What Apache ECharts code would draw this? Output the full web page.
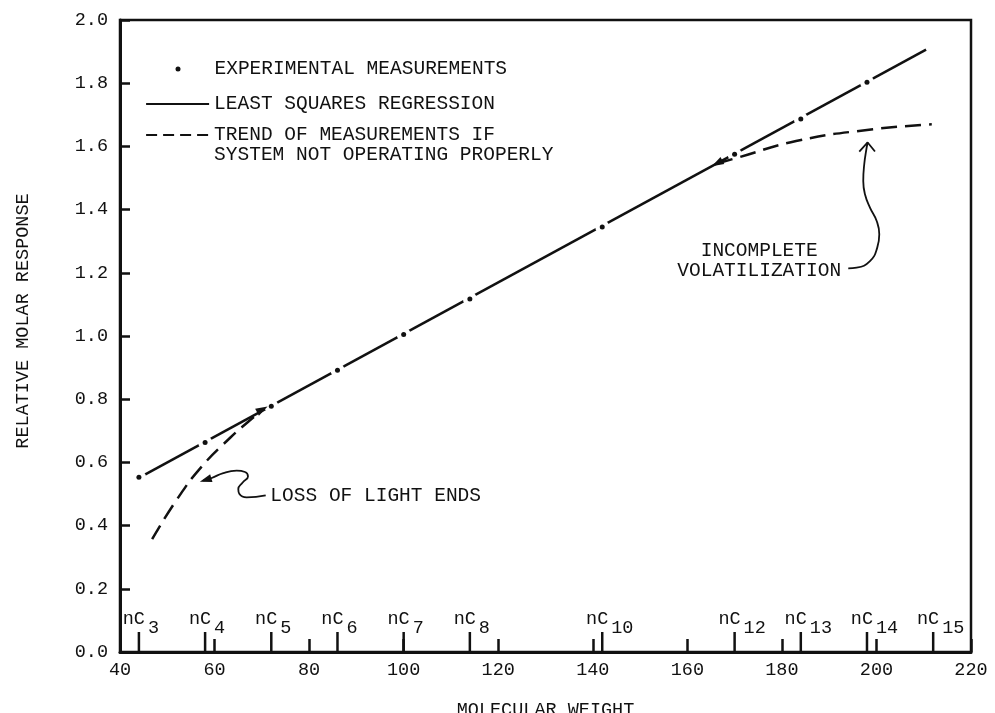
<!DOCTYPE html>
<html>
<head>
<meta charset="utf-8">
<script src="https://cdn.jsdelivr.net/npm/echarts@6/dist/echarts.min.js"></script>
<style>
html,body{margin:0;padding:0;background:#fff}
#c{width:995px;height:713px}
</style>
</head>
<body>
<div id="c"></div>
<script>
const FONT = "'Liberation Mono','DejaVu Sans Mono',monospace";
const INK = '#111';

// carbon-number markers along the molecular-weight axis
const compoundMW  = [44, 58, 72, 86, 100, 114, 142, 170, 184, 198, 212];
const compoundSub = ['3', '4', '5', '6', '7', '8', '10', '12', '13', '14', '15'];

// experimental measurements (dots)
const measuredMW  = [44, 58, 72, 86, 100, 114, 142, 170, 184, 198];
const measuredRMR = [0.553, 0.663, 0.778, 0.892, 1.005, 1.117, 1.345, 1.575, 1.687, 1.803];

// least squares regression end points
const regressionMW  = [44, 210.5];
const regressionRMR = [0.551, 1.906];

// trend if system not operating properly
const lowTrendMW   = [46.8, 52, 57.3, 63.3, 67, 70.3];
const lowTrendRMR  = [0.357, 0.482, 0.587, 0.678, 0.727, 0.768];
const highTrendMW  = [166.3, 171, 183, 198, 211.7];
const highTrendRMR = [1.546, 1.566, 1.617, 1.652, 1.670];

// arrow heads where trends meet the regression / annotation arrow
const tipMW  = [70.1, 166.3, 58.1];
const tipRMR = [0.768, 1.546, 0.5446];
const tipRot = [-61.5, 118.5, 107];

// annotation arrows
const lightArrowMW  = [70.82, 66.80, 65.23, 65.02, 65.95, 67.07, 66.44, 64.68, 61.85, 59.40, 57.6];
const lightArrowRMR = [0.4954, 0.4891, 0.5008, 0.5157, 0.5366, 0.5556, 0.5696, 0.5737, 0.5664, 0.5506, 0.5420];
const volArrowMW  = [194.04, 195.82, 198.63, 200.17, 200.60, 200.05, 198.63, 197.57, 197.21, 197.42, 197.93, 198.14];
const volArrowRMR = [1.2140, 1.2162, 1.2371, 1.2796, 1.3217, 1.3639, 1.4063, 1.4485, 1.4906, 1.5436, 1.5965, 1.6124];
const volHeadMW  = [196.37, 198.14, 199.69];
const volHeadRMR = [1.5838, 1.6124, 1.5838];

// annotation anchors
const lightNoteMW = [71.7],  lightNoteRMR = [0.493];
const volNoteMW   = [175.2], volNoteRMR   = [1.238];

const TREND = 'TREND OF MEASUREMENTS IF\nSYSTEM NOT OPERATING PROPERLY';
const zip = (a, b) => a.map((v, i) => [v, b[i]]);
const txt = {fontFamily: FONT, fontSize: 19.5, color: INK, lineHeight: 20};
const hidden = {color: 'rgba(0,0,0,0)', borderWidth: 0};

const chart = echarts.init(document.getElementById('c'));
chart.setOption({
  backgroundColor: '#fff',
  animation: false,
  grid: {left: 120, right: 24, top: 20, bottom: 61, show: true, borderColor: INK, borderWidth: 2.5,
         containLabel: false, outerBoundsMode: 'none'},
  legend: [
    {data: ['EXPERIMENTAL MEASUREMENTS'], left: 175.5, top: 59, padding: 0, itemWidth: 5, itemHeight: 5,
     icon: 'circle', selectedMode: false, itemStyle: {color: INK, opacity: 1},
     textStyle: Object.assign({padding: [0, 0, 0, 29]}, txt)},
    {data: ['LEAST SQUARES REGRESSION'], left: 145, top: 94, padding: 0, itemWidth: 63, itemHeight: 14,
     selectedMode: false, itemStyle: hidden, lineStyle: {color: INK, width: 2.2}, textStyle: txt},
    {data: [TREND], left: 145, top: 105, padding: 0, itemWidth: 63, itemHeight: 14,
     selectedMode: false, itemStyle: hidden, lineStyle: {color: INK, type: [11, 6], width: 2.2},
     formatter: name => '{e| }\n' + name.split('\n').map(s => '{a|' + s + '}').join('\n'),
     textStyle: Object.assign({rich: {e: {lineHeight: 20}, a: txt}}, txt)}
  ],
  xAxis: {
    type: 'value', min: 40, max: 220, interval: 20,
    axisLine: {show: true, lineStyle: {color: INK, width: 3}},
    axisTick: {show: true, inside: true, length: 13, lineStyle: {color: INK, width: 2.5}},
    axisLabel: {color: INK, fontFamily: FONT, fontSize: 18.5, margin: 9},
    splitLine: {show: false},
    name: 'MOLECULAR WEIGHT', nameLocation: 'middle', nameGap: 49,
    nameTextStyle: {color: INK, fontFamily: FONT, fontSize: 18.5}
  },
  yAxis: {
    type: 'value', min: 0, max: 2, interval: 0.2,
    axisLine: {show: true, lineStyle: {color: INK, width: 3}},
    axisTick: {show: true, inside: true, length: 10, lineStyle: {color: INK, width: 2.5}},
    axisLabel: {color: INK, fontFamily: FONT, fontSize: 18.5, margin: 12, formatter: v => v.toFixed(1)},
    splitLine: {show: false},
    name: 'RELATIVE MOLAR RESPONSE', nameLocation: 'middle', nameGap: 87, nameRotate: 90,
    nameTextStyle: {color: INK, fontFamily: FONT, fontSize: 18.5, padding: [0, 0, 0, 30]}
  },
  series: [
    {name: 'LEAST SQUARES REGRESSION', type: 'line', z: 2, symbol: 'none', silent: true,
     data: zip(regressionMW, regressionRMR), lineStyle: {color: INK, width: 2.5}, itemStyle: {color: INK}},
    {name: 'gap', type: 'scatter', z: 3, silent: true, symbolSize: 14,
     data: zip(measuredMW, measuredRMR), itemStyle: {color: '#fff', opacity: 1}},
    {name: TREND, type: 'line', z: 4, symbol: 'none', smooth: true, silent: true,
     data: zip(lowTrendMW, lowTrendRMR), lineStyle: {color: INK, width: 2.5, type: [16, 8]}, itemStyle: {color: INK}},
    {name: TREND, type: 'line', z: 4, symbol: 'none', smooth: true, silent: true,
     data: zip(highTrendMW, highTrendRMR), lineStyle: {color: INK, width: 2.5, type: [16, 8]}, itemStyle: {color: INK}},
    {name: 'tips', type: 'scatter', z: 5, silent: true, symbol: 'triangle', symbolSize: [8, 12],
     data: tipMW.map((m, i) => ({value: [m, tipRMR[i]], symbolRotate: tipRot[i]})),
     itemStyle: {color: INK, opacity: 1}},
    {name: 'lightArrow', type: 'line', z: 5, symbol: 'none', smooth: true, silent: true,
     data: zip(lightArrowMW, lightArrowRMR), lineStyle: {color: INK, width: 1.8}},
    {name: 'volArrow', type: 'line', z: 5, symbol: 'none', smooth: true, silent: true,
     data: zip(volArrowMW, volArrowRMR), lineStyle: {color: INK, width: 1.8}},
    {name: 'volHead', type: 'line', z: 5, symbol: 'none', silent: true,
     data: zip(volHeadMW, volHeadRMR), lineStyle: {color: INK, width: 1.8}},
    {name: 'EXPERIMENTAL MEASUREMENTS', type: 'scatter', z: 6, silent: true, symbolSize: 5,
     data: zip(measuredMW, measuredRMR), itemStyle: {color: INK, opacity: 1}},
    {name: 'lightNote', type: 'scatter', z: 6, silent: true, symbolSize: 1,
     data: zip(lightNoteMW, lightNoteRMR), itemStyle: {color: 'rgba(0,0,0,0)', opacity: 1},
     label: {show: true, position: 'right', distance: 0, formatter: 'LOSS OF LIGHT ENDS', opacity: 1,
             fontFamily: FONT, fontSize: 19.5, color: INK}},
    {name: 'volNote', type: 'scatter', z: 6, silent: true, symbolSize: 1,
     data: zip(volNoteMW, volNoteRMR), itemStyle: {color: 'rgba(0,0,0,0)', opacity: 1},
     label: {show: true, position: 'inside', formatter: 'INCOMPLETE\nVOLATILIZATION', lineHeight: 20, opacity: 1,
             align: 'center', fontFamily: FONT, fontSize: 19.5, color: INK}},
    {name: 'compounds', type: 'custom', z: 7, silent: true, clip: false,
     data: compoundMW.map(m => [m, 0]),
     renderItem: (params, api) => {
       const p = api.coord([api.value(0), 0]);
       const sub = compoundSub[params.dataIndex];
       return {type: 'group', children: [
         {type: 'line', shape: {x1: p[0], y1: p[1], x2: p[0], y2: p[1] - 20},
          style: {stroke: INK, lineWidth: 2.5}},
         {type: 'text', x: p[0] + 6, y: p[1] - 33,
          style: {text: 'nC', fill: INK, fontFamily: FONT, fontSize: 18.5, align: 'right', verticalAlign: 'middle'}},
         {type: 'text', x: p[0] + 9, y: p[1] - 24,
          style: {text: sub, fill: INK, fontFamily: FONT, fontSize: 18.5, align: 'left', verticalAlign: 'middle'}}
       ]};
     }}
  ]
});
</script>
</body>
</html>
